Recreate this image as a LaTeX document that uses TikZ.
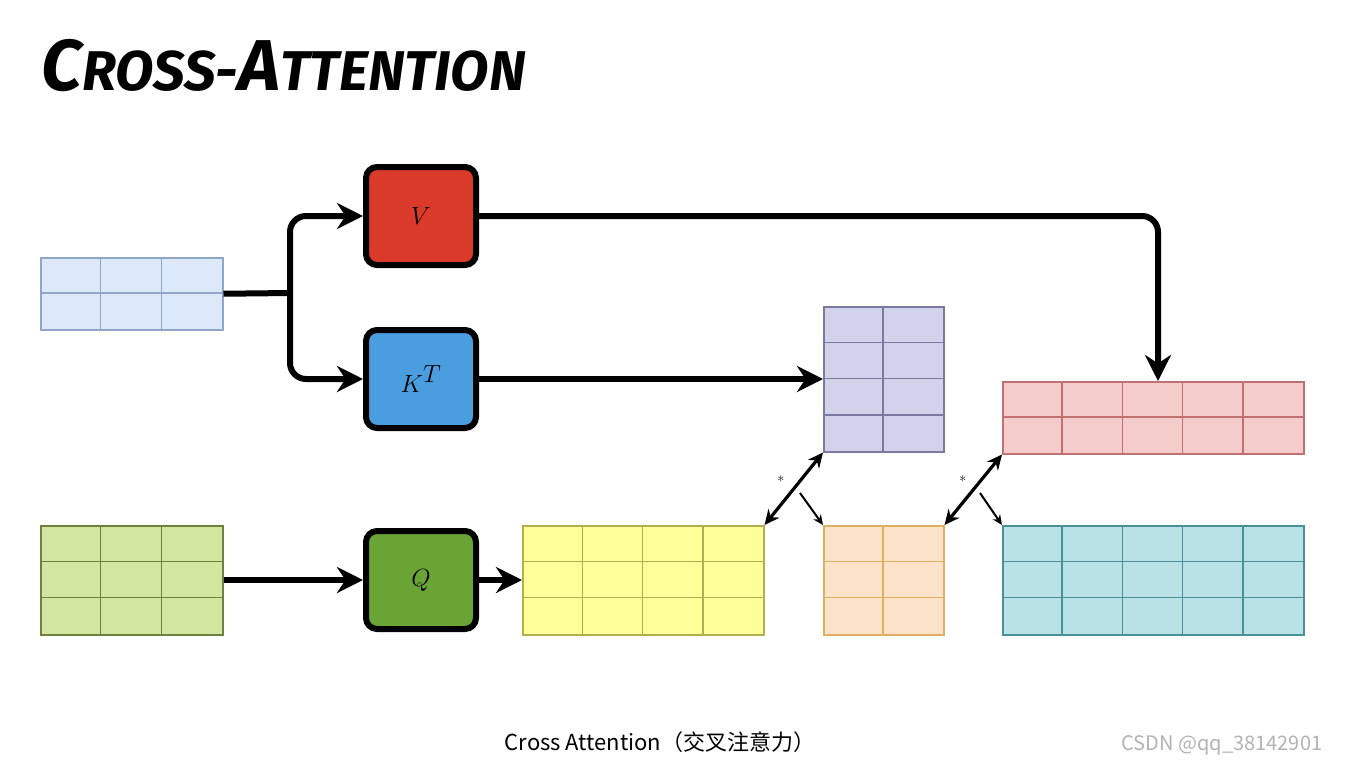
\documentclass[tikz,border=0pt]{standalone}
\usepackage{fontspec}
\newfontfamily\cjk{Noto Sans CJK SC}
\newfontfamily\ttl{Fira Sans}
\usetikzlibrary{arrows.meta}
\definecolor{bF}{HTML}{DDE8F8}\definecolor{bD}{HTML}{8FA6C8}
\definecolor{gF}{HTML}{D3E6A0}\definecolor{gD}{HTML}{6D8040}
\definecolor{pF}{HTML}{D2D2EA}\definecolor{pD}{HTML}{7A7AA0}
\definecolor{yF}{HTML}{FFFF99}\definecolor{yD}{HTML}{B0B050}
\definecolor{oF}{HTML}{FBE2C8}\definecolor{oD}{HTML}{E0B060}
\definecolor{rF}{HTML}{F4CCCC}\definecolor{rD}{HTML}{C07070}
\definecolor{cF}{HTML}{B8E2E6}\definecolor{cD}{HTML}{4A9098}
\definecolor{vC}{HTML}{D93A2A}\definecolor{kC}{HTML}{4A9EE0}\definecolor{qC}{HTML}{6AA435}
\newcommand{\mygrid}[8]{% name x0 y0 x1 y1 cols rows color
  \node[draw=#8D,fill=#8F,line width=1.5pt,minimum width=#4-#2,minimum height=#5-#3,inner sep=0,anchor=north west] (#1) at (#2,#3) {};
  \foreach \i in {1,...,#6}{\pgfmathsetmacro\xx{#2+(#4-#2)*\i/#6}\ifnum\i<#6\draw[#8D,line width=1.5pt] (\xx,#3)--(\xx,#5);\fi}
  \foreach \j in {1,...,#7}{\pgfmathsetmacro\yy{#3+(#5-#3)*\j/#7}\ifnum\j<#7\draw[#8D,line width=1.5pt] (#2,\yy)--(#4,\yy);\fi}
}
\begin{document}
\begin{tikzpicture}[x=1pt,y=-1pt,
  op/.style={draw=black,line width=6pt,rounded corners=11pt,minimum width=110pt,minimum height=98pt,font=\fontsize{40}{40}\selectfont},
  big/.style={line width=6pt,-{Stealth[length=26pt,width=26pt]}},
  dbl/.style={line width=3.2pt,{Stealth[length=15pt,width=14pt]}-{Stealth[length=15pt,width=14pt]}},
  sm/.style={line width=2pt,-{Stealth[length=10pt,width=9pt]}}]
\useasboundingbox (0,0) rectangle (1362,768);
\node[anchor=west,font=\ttl\bfseries\itshape\fontsize{72}{72}\selectfont] (title) at (38,66) {C\fontsize{56}{56}\selectfont ROSS-\fontsize{72}{72}\selectfont A\fontsize{56}{56}\selectfont TTENTION};
\mygrid{inb}{40}{257}{222}{329}{3}{2}{b}
\mygrid{ing}{40}{525}{222}{634}{3}{3}{g}
\mygrid{pur}{823}{306}{943}{451}{2}{4}{p}
\mygrid{yel}{522}{525}{763}{634}{4}{3}{y}
\mygrid{pea}{823}{525}{943}{634}{2}{3}{o}
\mygrid{pin}{1002}{381}{1303}{453}{5}{2}{r}
\mygrid{cya}{1002}{525}{1303}{634}{5}{3}{c}
\node[op,fill=vC] (V) at (421,216) {$V$};
\node[op,fill=kC] (K) at (421,379) {$K^T$};
\node[op,fill=qC] (Q) at (421,580) {$Q$};
\coordinate (br) at (290,293);
\coordinate (pt) at (1158,381);
\draw[line width=6pt] (inb.east)--(br);
\draw[big,rounded corners=16pt] (br)|-(V.west);
\draw[big,rounded corners=16pt] (br)|-(K.west);
\draw[big,rounded corners=16pt] (V.east)-|(pt);
\draw[big] (K.east)--(pur.west|-K.east);
\draw[big] (ing.east|-Q.west)--(Q.west);
\draw[big] (Q.east)--(yel.west|-Q.east);
\draw[dbl] (yel.north east)--(pur.south west);
\draw[sm] (800,493)--(pea.north west);
\node[font=\Large] (s1) at (781,481) {*};
\draw[dbl] (pea.north east)--(pin.south west);
\draw[sm] (980,493)--(cya.north west);
\node[font=\Large] (s2) at (963,481) {*};
\node[font=\cjk\fontsize{22}{22}\selectfont] (cap) at (660,742) {Cross Attention（交叉注意力）};
\node[font=\cjk\fontsize{20}{20}\selectfont,text=black!30] (wm) at (1222,745) {CSDN @qq\_38142901};
\end{tikzpicture}
\end{document}
